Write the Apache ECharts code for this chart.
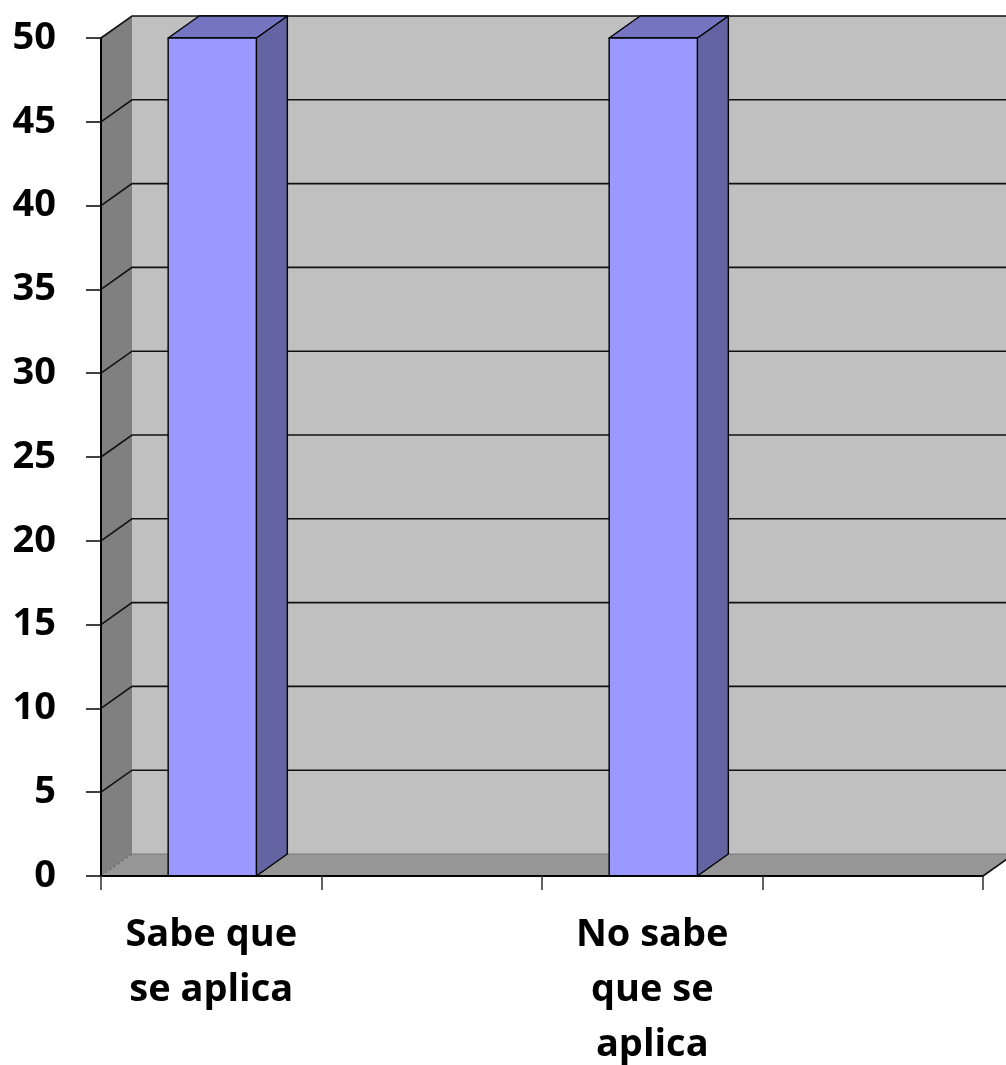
<!DOCTYPE html>
<html>
<head>
<meta charset="utf-8">
<style>
  html, body { margin: 0; padding: 0; background: #ffffff; }
  #chart { width: 1006px; height: 1065px; }
</style>
<script src="https://cdn.jsdelivr.net/npm/echarts@6/dist/echarts.min.js"></script>
</head>
<body>
<div id="chart"></div>
<script>
// Categories along the floor (two empty slots between the answers)
const categories = ['Sabe que\nse aplica', '', 'No sabe\nque se\naplica', ''];
// Percentage for each category (null = no bar)
const values = [50, null, 50, null];
// Value axis range and step
const yMin = 0;
const yMax = 50;
const yStep = 5;

// Oblique depth of the pseudo-3D box
const DX = 31;
const DY = -22;

const FONT = "'Open Sans', 'DejaVu Sans', sans-serif";

const chart = echarts.init(document.getElementById('chart'), null, { renderer: 'canvas' });

// Walls, floor and back-wall gridlines, placed through the value axis
function renderFrame(params, api) {
  const cs = params.coordSys;
  const x0 = cs.x, x1 = cs.x + cs.width;
  const yTop = api.coord([0, yMax])[1];
  const yBot = api.coord([0, yMin])[1];
  const children = [];

  // back wall
  children.push({
    type: 'polygon',
    shape: { points: [[x0 + DX, yTop + DY], [x1 + DX, yTop + DY], [x1 + DX, yBot + DY], [x0 + DX, yBot + DY]] },
    style: { fill: '#c0c0c0', stroke: null }
  });
  // left wall
  children.push({
    type: 'polygon',
    shape: { points: [[x0, yTop], [x0 + DX, yTop + DY], [x0 + DX, yBot + DY], [x0, yBot]] },
    style: { fill: '#808080', stroke: null }
  });
  // floor
  children.push({
    type: 'polygon',
    shape: { points: [[x0, yBot], [x1, yBot], [x1 + DX, yBot + DY], [x0 + DX, yBot + DY]] },
    style: { fill: '#969696', stroke: null }
  });
  // back-wall / floor seam
  children.push({
    type: 'line',
    shape: { x1: x0 + DX, y1: yBot + DY, x2: x1 + DX, y2: yBot + DY },
    style: { stroke: '#7a7a7a', lineWidth: 1 }
  });
  children.push({
    type: 'line',
    shape: { x1: x0, y1: yBot, x2: x0 + DX, y2: yBot + DY },
    style: { stroke: '#5a5a5a', lineWidth: 1, lineDash: [3, 2] }
  });

  // gridlines: diagonal on the left wall, horizontal on the back wall
  for (let v = yMin + yStep; v <= yMax; v += yStep) {
    const y = api.coord([0, v])[1];
    children.push({
      type: 'polyline',
      shape: { points: [[x0, y], [x0 + DX, y + DY], [x1 + DX, y + DY]] },
      style: { stroke: '#111111', lineWidth: 1.6, fill: null }
    });
  }

  // right edge of floor
  children.push({
    type: 'line',
    shape: { x1: x1, y1: yBot, x2: x1 + DX, y2: yBot + DY },
    style: { stroke: '#111111', lineWidth: 1.6 }
  });

  return { type: 'group', children: children };
}

// Prism-shaped bar: front, top and right faces
function renderBar(params, api) {
  const idx = api.value(0);
  const val = api.value(1);
  const top = api.coord([idx, val]);
  const base = api.coord([idx, yMin]);
  const bw = api.size([1, 0])[0] * 0.4;
  const l = top[0] - bw / 2 + 1, r = top[0] + bw / 2 + 1;
  const yt = top[1], yb = base[1];
  const stroke = { stroke: '#000000', lineWidth: 1.4, lineJoin: 'round' };
  return {
    type: 'group',
    children: [
      {
        type: 'polygon',
        shape: { points: [[r, yt], [r + DX, yt + DY], [r + DX, yb + DY], [r, yb]] },
        style: Object.assign({ fill: '#6464a2' }, stroke)
      },
      {
        type: 'polygon',
        shape: { points: [[l, yt], [r, yt], [r + DX, yt + DY], [l + DX, yt + DY]] },
        style: Object.assign({ fill: '#7474c0' }, stroke)
      },
      {
        type: 'rect',
        shape: { x: l, y: yt, width: r - l, height: yb - yt },
        style: Object.assign({ fill: '#9999ff' }, stroke)
      }
    ]
  };
}

const barData = [];
values.forEach(function (v, i) {
  if (v !== null) barData.push([i, v]);
});

chart.setOption({
  animation: false,
  backgroundColor: '#ffffff',
  grid: {
    left: 101, right: 23, top: 38, bottom: 189,
    containLabel: false,
    outerBoundsMode: 'none'
  },
  xAxis: {
    type: 'category',
    data: categories,
    boundaryGap: true,
    z: 10,
    axisLine: { show: true, lineStyle: { color: '#000000', width: 2 } },
    axisTick: { show: true, interval: 0, length: 14, lineStyle: { color: '#3a3a3a', width: 1.6 } },
    axisLabel: {
      interval: 0,
      margin: 32,
      color: '#000000',
      fontFamily: FONT,
      fontWeight: 'bold',
      fontSize: 38,
      lineHeight: 55
    },
    splitLine: { show: false }
  },
  yAxis: {
    type: 'value',
    min: yMin,
    max: yMax,
    interval: yStep,
    z: 10,
    axisLine: { show: true, lineStyle: { color: '#000000', width: 2 } },
    axisTick: { show: true, length: 15, lineStyle: { color: '#111111', width: 1.6 } },
    axisLabel: {
      margin: 45,
      color: '#000000',
      fontFamily: FONT,
      fontWeight: 'bold',
      fontSize: 38
    },
    splitLine: { show: false }
  },
  series: [
    {
      type: 'custom',
      name: 'frame',
      z: 1,
      silent: true,
      renderItem: renderFrame,
      data: [[0, yMax]]
    },
    {
      type: 'custom',
      name: 'valores',
      z: 3,
      renderItem: renderBar,
      encode: { x: 0, y: 1 },
      data: barData
    }
  ]
});
</script>
</body>
</html>
